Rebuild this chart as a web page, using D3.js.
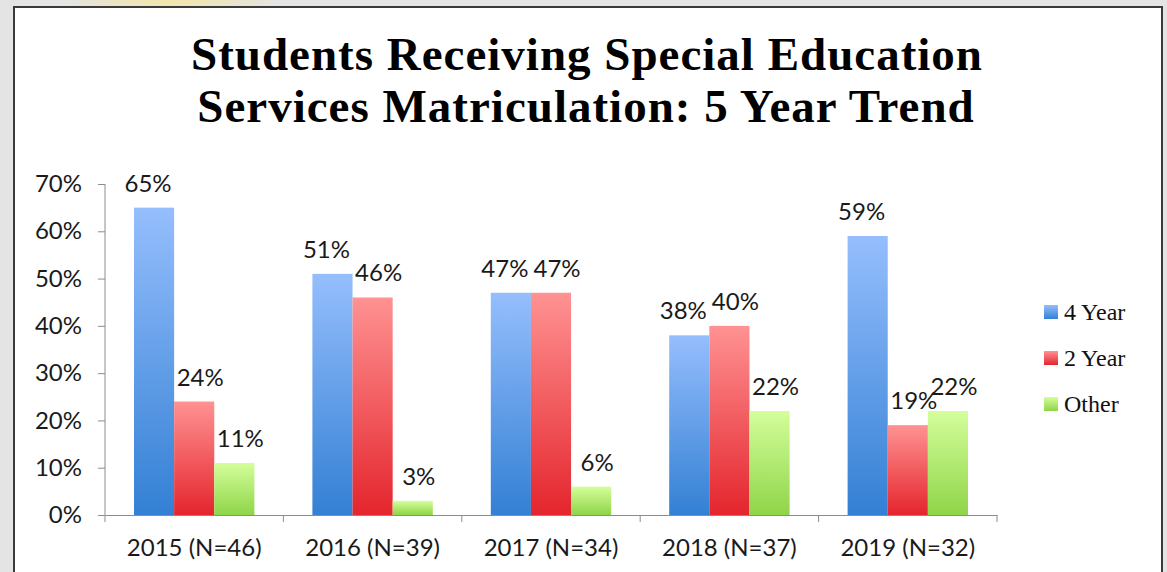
<!DOCTYPE html>
<html lang="en">
<head>
<meta charset="UTF-8">
<title>Special Education Matriculation</title>
<script src="https://d3js.org/d3.v7.min.js"></script>
<style>
    body { margin: 0; background: #e4e4e4; }
    svg { display: block; }
</style>
</head>
<body>
<script>
    // data
    var years = ["2015 (N=46)", "2016 (N=39)", "2017 (N=34)", "2018 (N=37)", "2019 (N=32)"];
    var seriesNames = ["4 Year", "2 Year", "Other"];
    var fourYear = [65, 51, 47, 38, 59];
    var twoYear = [24, 46, 47, 40, 19];
    var other = [11, 3, 6, 22, 22];
    var yTicks = [0, 10, 20, 30, 40, 50, 60, 70];

    var width = 1167, height = 572;
    var margin = {left: 105, right: 170, top: 184, bottom: 57};

    var svg = d3.select("body").append("svg")
        .attr("width", width)
        .attr("height", height);

    var defs = svg.append("defs");
    var grads = [
        {id: "g0", top: "#95befd", bottom: "#3380d4"},
        {id: "g1", top: "#ff9292", bottom: "#e4252d"},
        {id: "g2", top: "#d4fe9b", bottom: "#8fd548"}
    ];
    grads.forEach(function(g) {
        var lg = defs.append("linearGradient").attr("id", g.id)
            .attr("x1", 0).attr("y1", 0).attr("x2", 0).attr("y2", 1);
        lg.append("stop").attr("offset", "0%").attr("stop-color", g.top);
        lg.append("stop").attr("offset", "100%").attr("stop-color", g.bottom);
    });
    var bg = defs.append("radialGradient").attr("id", "glow");
    bg.append("stop").attr("offset", "0%").attr("stop-color", "#f3e6a8");
    bg.append("stop").attr("offset", "100%").attr("stop-color", "#e4e4e4");

    // slide background + panel
    svg.append("ellipse").attr("cx", 170).attr("cy", 2).attr("rx", 110).attr("ry", 12)
        .attr("fill", "url(#glow)");
    svg.append("rect")
        .attr("x", 14).attr("y", 7).attr("width", 1148).attr("height", 580)
        .attr("fill", "#fff").attr("stroke", "#3a3a3a").attr("stroke-width", 2);

    // title
    var title = svg.append("text")
        .attr("text-anchor", "middle")
        .attr("font-family", "Liberation Serif, serif")
        .attr("font-weight", "bold")
        .attr("font-size", 47)
        .attr("letter-spacing", 1)
        .attr("fill", "#000");
    title.append("tspan").attr("x", 587).attr("y", 70).text("Students Receiving Special Education");
    title.append("tspan").attr("x", 586).attr("y", 122).text("Services Matriculation: 5 Year Trend");

    var x = d3.scaleBand().domain(years).range([margin.left, width - margin.right]).paddingInner(0).paddingOuter(0);
    var inner = d3.scaleBand().domain(seriesNames).range([29, x.bandwidth() - 29]).padding(0);
    var y = d3.scaleLinear().domain([0, 70]).range([height - margin.bottom, margin.top]);

    var axisColor = "#8c8c8c";
    var labelFont = "Lato, Open Sans, sans-serif";
    var labelSize = 24;

    // y axis
    var yAxis = svg.append("g")
        .attr("transform", "translate(" + margin.left + ",0)")
        .call(d3.axisLeft(y).tickValues(yTicks).tickSize(7).tickPadding(16)
            .tickFormat(function(d) { return d + "%"; }));
    yAxis.select(".domain").attr("stroke", axisColor).attr("d", "M0," + y(70) + "V" + (y(0) + 7));
    yAxis.selectAll(".tick line").attr("stroke", axisColor);
    yAxis.selectAll("text")
        .attr("font-family", labelFont).attr("font-size", labelSize).attr("fill", "#1a1a1a");

    // x axis with ticks at the band edges
    var xAxis = svg.append("g")
        .attr("transform", "translate(0," + y(0) + ")")
        .call(d3.axisBottom(x).tickSize(0).tickPadding(24));
    xAxis.select(".domain").attr("stroke", axisColor);
    xAxis.selectAll("text")
        .attr("font-family", labelFont).attr("font-size", labelSize).attr("fill", "#1a1a1a");
    xAxis.selectAll(".edge").data(years.slice(1).concat(["end"]))
        .enter().append("line")
        .attr("class", "edge")
        .attr("x1", function(d, i) { return x(years[0]) + (i + 1) * x.bandwidth(); })
        .attr("x2", function(d, i) { return x(years[0]) + (i + 1) * x.bandwidth(); })
        .attr("y1", 0).attr("y2", 7)
        .attr("stroke", axisColor);

    // bars
    var table = years.map(function(yr, i) {
        return {year: yr, values: [fourYear[i], twoYear[i], other[i]]};
    });

    var groups = svg.selectAll(".grp").data(table).enter().append("g")
        .attr("class", "grp")
        .attr("transform", function(d) { return "translate(" + x(d.year) + ",0)"; });

    groups.selectAll("rect")
        .data(function(d) { return d.values.map(function(v, j) { return {s: seriesNames[j], v: v, j: j}; }); })
        .enter().append("rect")
        .attr("x", function(d) { return inner(d.s); })
        .attr("y", function(d) { return y(d.v); })
        .attr("width", inner.bandwidth())
        .attr("height", function(d) { return y(0) - y(d.v); })
        .attr("fill", function(d) { return "url(#g" + d.j + ")"; });

    groups.selectAll(".lbl")
        .data(function(d) { return d.values.map(function(v, j) { return {s: seriesNames[j], v: v, j: j}; }); })
        .enter().append("text")
        .attr("class", "lbl")
        .attr("x", function(d) { return inner(d.s) + inner.bandwidth() / 2 + (d.j === 0 ? -6 : 6); })
        .attr("y", function(d) { return y(d.v) - 16; })
        .attr("text-anchor", "middle")
        .attr("font-family", labelFont).attr("font-size", labelSize).attr("fill", "#1a1a1a")
        .text(function(d) { return d.v + "%"; });

    // legend
    var legend = svg.selectAll(".leg").data(seriesNames).enter().append("g")
        .attr("class", "leg")
        .attr("transform", function(d, i) { return "translate(1044," + (305 + i * 46) + ")"; });
    legend.append("rect").attr("width", 14).attr("height", 14)
        .attr("fill", function(d, i) { return "url(#g" + i + ")"; });
    legend.append("text").attr("x", 20).attr("y", 15)
        .attr("font-family", "Liberation Serif, serif")
        .attr("font-size", 24).attr("fill", "#111")
        .text(function(d) { return d; });
</script>
</body>
</html>
